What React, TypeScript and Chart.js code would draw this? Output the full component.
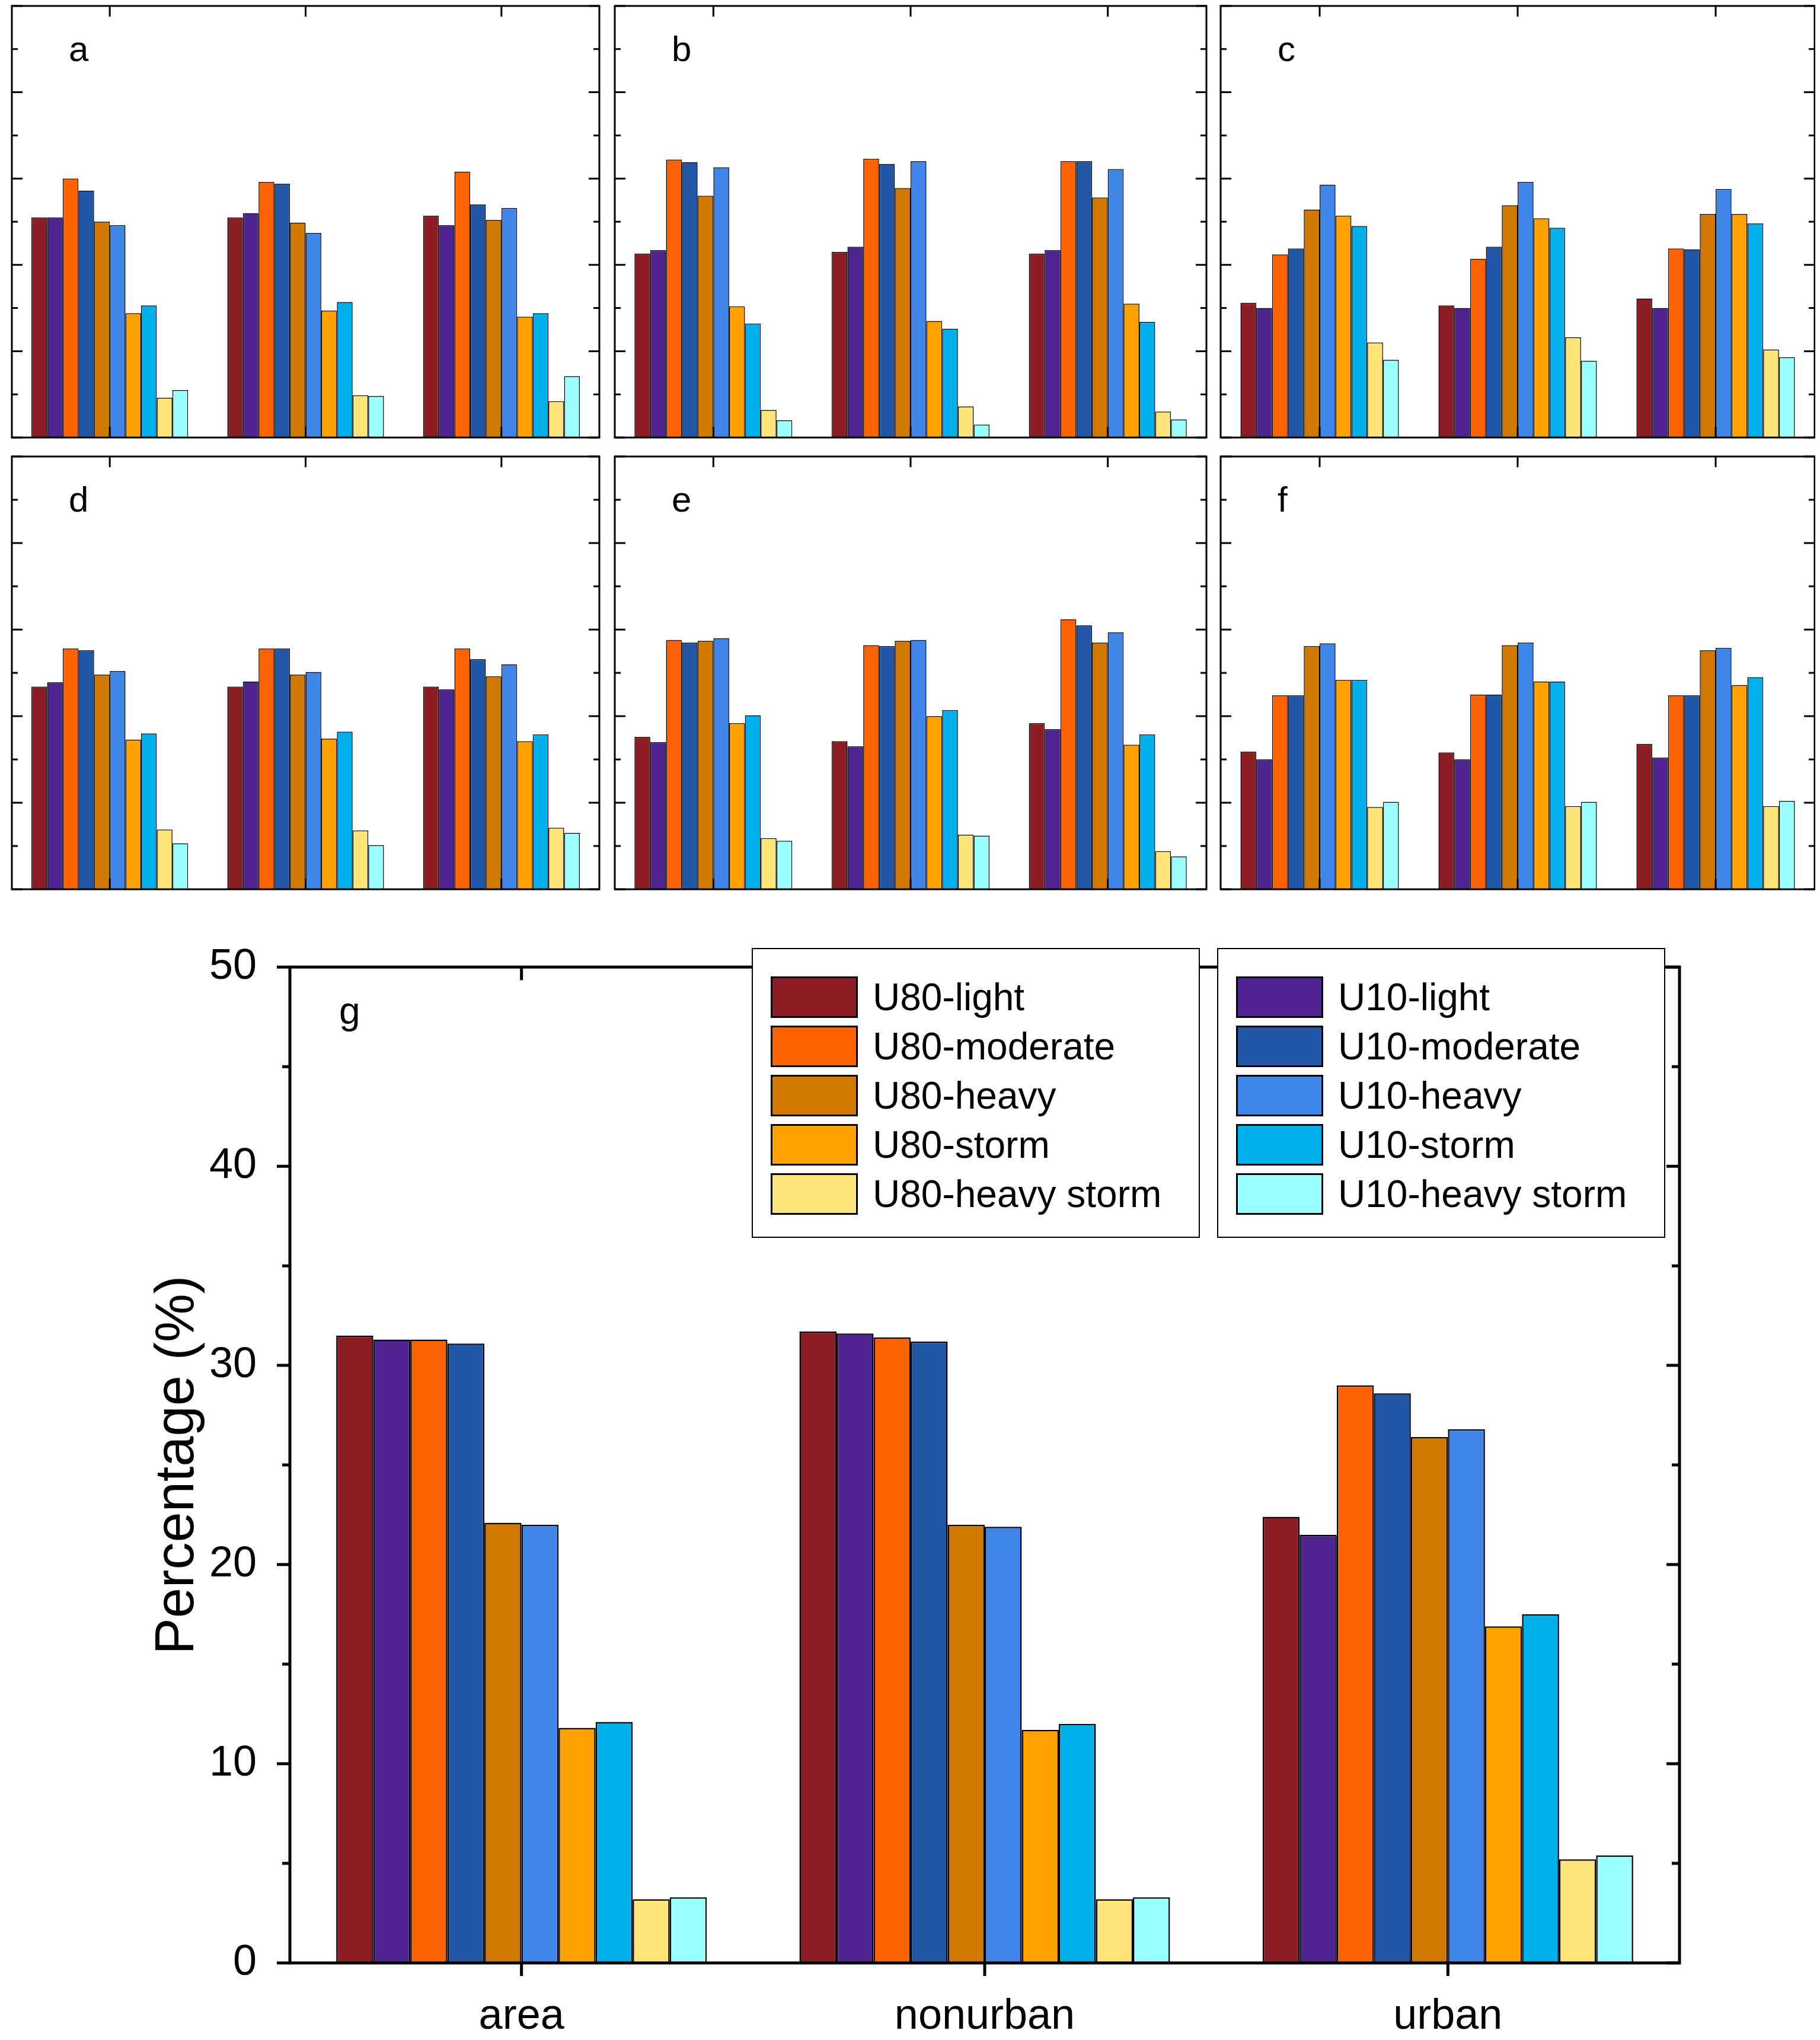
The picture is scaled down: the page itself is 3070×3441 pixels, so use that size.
import React, { useEffect, useRef } from "react";
import { Chart, registerables } from "chart.js";
Chart.register(...registerables);

const CATEGORIES = ["area", "nonurban", "urban"];
const SERIES = ["U80-light", "U10-light", "U80-moderate", "U10-moderate", "U80-heavy", "U10-heavy", "U80-storm", "U10-storm", "U80-heavy storm", "U10-heavy storm"];
const COLORS = ["#8C1D24", "#4F2390", "#FF6200", "#2157A6", "#D07800", "#3F86E8", "#FFA200", "#00B0EA", "#FFE47A", "#99FFFF"];
const Y_TICKS = [0, 10, 20, 30, 40, 50];

const A_AREA = [25.5, 25.5, 30, 28.6, 25, 24.6, 14.4, 15.3, 4.6, 5.5];
const A_NONURBAN = [25.5, 26, 29.6, 29.4, 24.9, 23.7, 14.7, 15.7, 4.9, 4.8];
const A_URBAN = [25.7, 24.6, 30.8, 27, 25.2, 26.6, 14, 14.4, 4.2, 7.1];
const B_AREA = [21.3, 21.7, 32.2, 31.9, 28, 31.3, 15.2, 13.2, 3.2, 2];
const B_NONURBAN = [21.5, 22.1, 32.3, 31.7, 28.9, 32, 13.5, 12.6, 3.6, 1.5];
const B_URBAN = [21.3, 21.7, 32, 32, 27.8, 31.1, 15.5, 13.4, 3, 2.1];
const C_AREA = [15.6, 15, 21.2, 21.9, 26.4, 29.3, 25.7, 24.5, 11, 9];
const C_NONURBAN = [15.3, 15, 20.7, 22.1, 26.9, 29.6, 25.4, 24.3, 11.6, 8.9];
const C_URBAN = [16.1, 15, 21.9, 21.8, 25.9, 28.8, 25.9, 24.8, 10.2, 9.3];
const D_AREA = [23.4, 23.9, 27.8, 27.6, 24.8, 25.2, 17.3, 18, 6.9, 5.3];
const D_NONURBAN = [23.4, 24, 27.8, 27.8, 24.8, 25.1, 17.4, 18.2, 6.8, 5.1];
const D_URBAN = [23.4, 23.1, 27.8, 26.6, 24.6, 26, 17.1, 17.9, 7.1, 6.5];
const E_AREA = [17.6, 17, 28.8, 28.5, 28.7, 29, 19.2, 20.1, 5.9, 5.6];
const E_NONURBAN = [17.1, 16.5, 28.2, 28.1, 28.7, 28.8, 20, 20.7, 6.3, 6.2];
const E_URBAN = [19.2, 18.5, 31.2, 30.5, 28.5, 29.7, 16.7, 17.9, 4.4, 3.8];
const F_AREA = [15.9, 15, 22.4, 22.4, 28.1, 28.4, 24.2, 24.2, 9.5, 10.1];
const F_NONURBAN = [15.8, 15, 22.5, 22.5, 28.2, 28.5, 24, 24, 9.6, 10.1];
const F_URBAN = [16.8, 15.2, 22.4, 22.4, 27.6, 27.9, 23.6, 24.5, 9.6, 10.2];
const G_AREA = [31.5, 31.3, 31.3, 31.1, 22.1, 22, 11.8, 12.1, 3.2, 3.3];
const G_NONURBAN = [31.7, 31.6, 31.4, 31.2, 22, 21.9, 11.7, 12, 3.2, 3.3];
const G_URBAN = [22.4, 21.5, 29, 28.6, 26.4, 26.8, 16.9, 17.5, 5.2, 5.4];

const FONT = "'Liberation Sans', Arial, sans-serif";

const boxPlugin = {
  id: "boxTicks",
  afterDraw(chart: any, _a: any, opts: any) {
    const { ctx, chartArea, scales } = chart;
    const { left, right, top, bottom } = chartArea;
    const x = scales.x, y = scales.y;
    ctx.save();
    ctx.strokeStyle = "#000";
    ctx.lineWidth = opts.lw;
    ctx.strokeRect(left, top, right - left, bottom - top);
    ctx.beginPath();
    for (let v = 0; v <= 50; v += 5) {
      const len = v % 10 === 0 ? opts.major : opts.minor;
      const py = y.getPixelForValue(v);
      if (opts.outer) { ctx.moveTo(left - len, py); ctx.lineTo(left, py); }
      else { ctx.moveTo(left, py); ctx.lineTo(left + len, py); }
      ctx.moveTo(right - len, py); ctx.lineTo(right, py);
    }
    for (let i = 0; i < CATEGORIES.length; i++) {
      const px = x.getPixelForValue(i);
      if (opts.outer) { ctx.moveTo(px, bottom); ctx.lineTo(px, bottom + opts.major); }
      else { ctx.moveTo(px, bottom); ctx.lineTo(px, bottom - opts.major); }
      ctx.moveTo(px, top); ctx.lineTo(px, top + opts.major);
    }
    ctx.stroke();
    ctx.restore();
  },
};

function makeDatasets(area: number[], non: number[], urb: number[], bw: number) {
  return SERIES.map((s, i) => ({
    label: s,
    data: [area[i], non[i], urb[i]],
    backgroundColor: COLORS[i],
    borderColor: "#000",
    borderWidth: bw,
    barPercentage: 1,
    categoryPercentage: 0.8,
  }));
}

function SmallPanel({ letter, area, non, urb, left, top, width, height }: any) {
  const ref = useRef<HTMLCanvasElement>(null);
  useEffect(() => {
    const c = new Chart(ref.current!, {
      type: "bar",
      data: { labels: CATEGORIES, datasets: makeDatasets(area, non, urb, 1.5) as any },
      options: {
        animation: false, responsive: false, maintainAspectRatio: false,
        layout: { padding: 2 },
        plugins: { legend: { display: false }, tooltip: { enabled: false }, boxTicks: { lw: 3, major: 18, minor: 10, outer: false } } as any,
        scales: {
          x: { display: false },
          y: { display: false, min: 0, max: 50 },
        },
      },
      plugins: [boxPlugin],
    });
    return () => c.destroy();
  }, []);
  return (
    <div style={{ position: "absolute", left, top, width, height }}>
      <canvas ref={ref} width={width} height={height} style={{ width, height, display: "block" }} />
      <div style={{ position: "absolute", left: 98, top: 40, fontFamily: FONT, fontSize: 60 }}>{letter}</div>
    </div>
  );
}

function MainPanel() {
  const ref = useRef<HTMLCanvasElement>(null);
  const W = 3070, H = 1901, TOP = 1540;
  useEffect(() => {
    const c = new Chart(ref.current!, {
      type: "bar",
      data: { labels: CATEGORIES, datasets: makeDatasets(G_AREA, G_NONURBAN, G_URBAN, 2.5) as any },
      options: {
        animation: false, responsive: false, maintainAspectRatio: false,
        layout: { padding: { top: 43, right: 237, left: 0, bottom: 0 } },
        plugins: { legend: { display: false }, tooltip: { enabled: false }, boxTicks: { lw: 5, major: 22, minor: 13, outer: true } } as any,
        scales: {
          x: {
            grid: { display: false }, border: { display: false },
            ticks: { font: { family: FONT, size: 72 }, color: "#000", padding: 40 },
            afterFit: (s: any) => { s.height = 130; },
          },
          y: {
            min: 0, max: 50,
            grid: { display: false }, border: { display: false },
            afterBuildTicks: (s: any) => { s.ticks = Y_TICKS.map((v) => ({ value: v })); },
            ticks: { font: { family: FONT, size: 72 }, color: "#000", padding: 48 },
            title: { display: true, text: "Percentage (%)", font: { family: FONT, size: 92 }, color: "#000", padding: { top: 245, bottom: 0 } },
            afterFit: (s: any) => { s.width = 489; },
          },
        },
      },
      plugins: [boxPlugin],
    });
    return () => c.destroy();
  }, []);
  const legendBox = (items: number[], left: number) => (
    <div style={{ position: "absolute", left, top: 1599 - TOP, width: 756, height: 489, border: "2px solid #000", boxSizing: "border-box", background: "#fff" }}>
      {items.map((i, k) => (
        <div key={i} style={{ position: "absolute", left: 30, top: 81 - 35 + k * 83, height: 70, display: "flex", alignItems: "center" }}>
          <div style={{ width: 147, height: 70, background: COLORS[i], border: "3px solid #000", boxSizing: "border-box" }} />
          <span style={{ marginLeft: 25, fontFamily: FONT, fontSize: 64, whiteSpace: "nowrap" }}>{SERIES[i]}</span>
        </div>
      ))}
    </div>
  );
  return (
    <div style={{ position: "absolute", left: 0, top: TOP, width: W, height: H }}>
      <canvas ref={ref} width={W} height={H} style={{ width: W, height: H, display: "block" }} />
      {legendBox([0, 2, 4, 6, 8], 1268)}
      {legendBox([1, 3, 5, 7, 9], 2053)}
      <div style={{ position: "absolute", left: 572, top: 1668 - TOP, fontFamily: FONT, fontSize: 64 }}>g</div>
    </div>
  );
}

export default function App() {
  return (
    <div style={{ position: "relative", width: 3062, height: 3433, background: "#fff", overflow: "hidden" }}>
      <SmallPanel letter="a" area={A_AREA} non={A_NONURBAN} urb={A_URBAN} left={10} top={0} width={995} height={732} />
      <SmallPanel letter="b" area={B_AREA} non={B_NONURBAN} urb={B_URBAN} left={1027} top={0} width={1002} height={732} />
      <SmallPanel letter="c" area={C_AREA} non={C_NONURBAN} urb={C_URBAN} left={2049} top={0} width={1006} height={732} />
      <SmallPanel letter="d" area={D_AREA} non={D_NONURBAN} urb={D_URBAN} left={10} top={760} width={995} height={734} />
      <SmallPanel letter="e" area={E_AREA} non={E_NONURBAN} urb={E_URBAN} left={1027} top={760} width={1002} height={734} />
      <SmallPanel letter="f" area={F_AREA} non={F_NONURBAN} urb={F_URBAN} left={2049} top={760} width={1006} height={734} />
      <div style={{ position: "absolute", left: -8, top: -8 }}>
        <MainPanel />
      </div>
    </div>
  );
}
